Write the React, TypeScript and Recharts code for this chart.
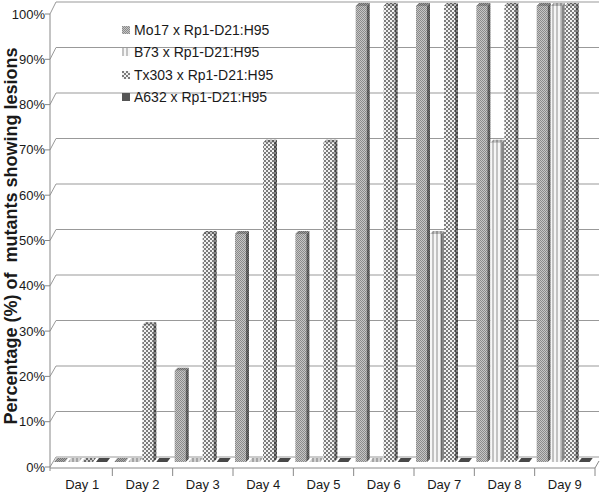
import { BarChart, Bar, XAxis, YAxis, CartesianGrid, Legend } from 'recharts';

const days = ['Day 1', 'Day 2', 'Day 3', 'Day 4', 'Day 5', 'Day 6', 'Day 7', 'Day 8', 'Day 9'];
const mo17 = [0, 0, 20, 50, 50, 100, 100, 100, 100];
const b73 = [0, 0, 0, 0, 0, 0, 50, 70, 100];
const tx303 = [0, 30, 50, 70, 70, 100, 100, 100, 100];
const a632 = [0, 0, 0, 0, 0, 0, 0, 0, 0];
const seriesNames = ['Mo17 x Rp1-D21:H95', 'B73 x Rp1-D21:H95', 'Tx303 x Rp1-D21:H95', 'A632 x Rp1-D21:H95'];
const yTicks = [0, 10, 20, 30, 40, 50, 60, 70, 80, 90, 100];

const data = days.map((day, i) => ({
  day,
  mo17: mo17[i],
  b73: b73[i],
  tx303: tx303[i],
  a632: a632[i],
}));

const keys = ['mo17', 'b73', 'tx303', 'a632'];
const fills = ['url(#pMo17)', 'url(#pB73)', 'url(#pTx303)', '#555555'];

// plot box (front face of bars)
const TOP = 6;
const BOTTOM = 462;
const LEFT = 52;
const FONT = 'Liberation Sans, Arial, sans-serif';

// fraction of full scale for a pixel y on the bar scale
const frac = (y: number) => (BOTTOM - y) / (BOTTOM - TOP);
const labelY = (y: number) => 467 - 453 * frac(y);
const wallY = (y: number) => 457 - 455 * frac(y);

function Bar3D(props: any) {
  const { x, y, width, height, fill } = props;
  const d = 3;
  const base = y + height;
  const fw = width - d;
  if (!(height >= 1)) {
    const pts = `${x},${base} ${x + d},${base - 4} ${x + width},${base - 4} ${x + fw},${base}`;
    return (
      <g>
        <polygon points={pts} fill={fill} />
        <polygon points={pts} fill="rgba(0,0,0,0.15)" />
      </g>
    );
  }
  const top = `${x},${y} ${x + d},${y - d} ${x + width},${y - d} ${x + fw},${y}`;
  const side = `${x + fw},${y} ${x + width},${y - d} ${x + width},${base - d} ${x + fw},${base}`;
  return (
    <g>
      <rect x={x} y={y} width={fw} height={height} fill={fill} />
      <polygon points={top} fill={fill} />
      <polygon points={top} fill="rgba(0,0,0,0.22)" />
      <polygon points={side} fill={fill} />
      <polygon points={side} fill="rgba(0,0,0,0.45)" />
    </g>
  );
}

function YTick(props: any) {
  const { y, payload } = props;
  const ly = labelY(y);
  return (
    <g>
      {payload.value === 0 && <line x1={50} y1={labelY(TOP)} x2={50} y2={471} stroke="#888" />}
      <line x1={45} y1={ly} x2={50} y2={ly} stroke="#888" />
      <text x={45} y={ly + 4.5} textAnchor="end" fontSize={13} fontFamily={FONT} fill="#1a1a1a">
        {`${payload.value}%`}
      </text>
    </g>
  );
}

function XTick(props: any) {
  const { x, payload, index } = props;
  const off = payload.offset || 30.17;
  const last = index === days.length - 1;
  const y0 = 468;
  return (
    <g>
      <line x1={index === 0 ? 50 : x - off} y1={y0} x2={x + off} y2={y0} stroke="#888" />
      <line x1={x + off} y1={y0} x2={x + off} y2={476} stroke="#888" />
      {last && <line x1={x + off} y1={y0} x2={599} y2={461} stroke="#888" />}
      <text x={x} y={489} textAnchor="middle" fontSize={13} fontFamily={FONT} fill="#1a1a1a">
        {payload.value}
      </text>
    </g>
  );
}

function WallLine(props: any) {
  const { y1 } = props;
  const wy = wallY(y1);
  const ly = labelY(y1);
  return <polyline points={`50,${ly} 56,${wy} 599,${wy}`} fill="none" stroke="#999" />;
}

function LegendBox() {
  return (
    <div style={{ fontFamily: FONT, fontSize: 14, color: '#1a1a1a' }}>
      {seriesNames.map((name, i) => (
        <div key={name} style={{ display: 'flex', alignItems: 'center', height: 22.3, whiteSpace: 'nowrap' }}>
          <svg width={8} height={8} style={{ marginRight: 4 }}>
            <rect width={8} height={8} fill={fills[i]} />
          </svg>
          {name}
        </div>
      ))}
    </div>
  );
}

export default function App() {
  return (
    <div style={{ position: 'absolute', left: 0, top: 0, width: 600, height: 494, background: '#fff' }}>
      <BarChart
        width={600}
        height={494}
        data={data}
        margin={{ top: TOP, right: 5, bottom: 0, left: 0 }}
        barCategoryGap={2}
        barGap={0}
      >
        <defs>
          <pattern id="pMo17" width={2} height={2} patternUnits="userSpaceOnUse">
            <rect width={2} height={2} fill="#c6c6c6" />
            <rect width={1} height={1} fill="#8a8a8a" />
            <rect x={1} y={1} width={1} height={1} fill="#8a8a8a" />
          </pattern>
          <pattern id="pB73" width={4} height={4} patternUnits="userSpaceOnUse">
            <rect width={4} height={4} fill="#f6f6f6" />
            <rect width={2} height={4} fill="#c2c2c2" />
          </pattern>
          <pattern id="pTx303" width={4} height={4} patternUnits="userSpaceOnUse">
            <rect width={4} height={4} fill="#f2f2f2" />
            <rect width={2} height={2} fill="#7c7c7c" />
            <rect x={2} y={2} width={2} height={2} fill="#7c7c7c" />
          </pattern>
        </defs>
        <CartesianGrid vertical={false} horizontal={(p: any) => <WallLine key={p.key} {...p} />} />
        <XAxis
          dataKey="day"
          height={494 - BOTTOM}
          axisLine={false}
          tickLine={false}
          tick={(p: any) => <XTick {...p} />}
          interval={0}
        />
        <YAxis
          width={LEFT}
          domain={[0, 100]}
          ticks={yTicks}
          axisLine={false}
          tickLine={false}
          tick={(p: any) => <YTick {...p} />}
          interval={0}
        />
        <Legend
          layout="vertical"
          align="center"
          verticalAlign="middle"
          content={<LegendBox />}
          wrapperStyle={{ position: 'absolute', left: 122, top: 19, width: 'auto', height: 'auto' }}
        />
        {keys.map((k, i) => (
          <Bar
            key={k}
            dataKey={k}
            name={seriesNames[i]}
            fill={fills[i]}
            shape={(p: any) => <Bar3D {...p} />}
            isAnimationActive={false}
          />
        ))}
        <text
          x={17}
          y={236}
          transform="rotate(-90 17 236)"
          textAnchor="middle"
          fontSize={18}
          fontWeight="bold"
          fontFamily={FONT}
          fill="#1a1a1a"
        >
          Percentage (%) of {'\u00a0'}mutants showing lesions
        </text>
      </BarChart>
    </div>
  );
}
